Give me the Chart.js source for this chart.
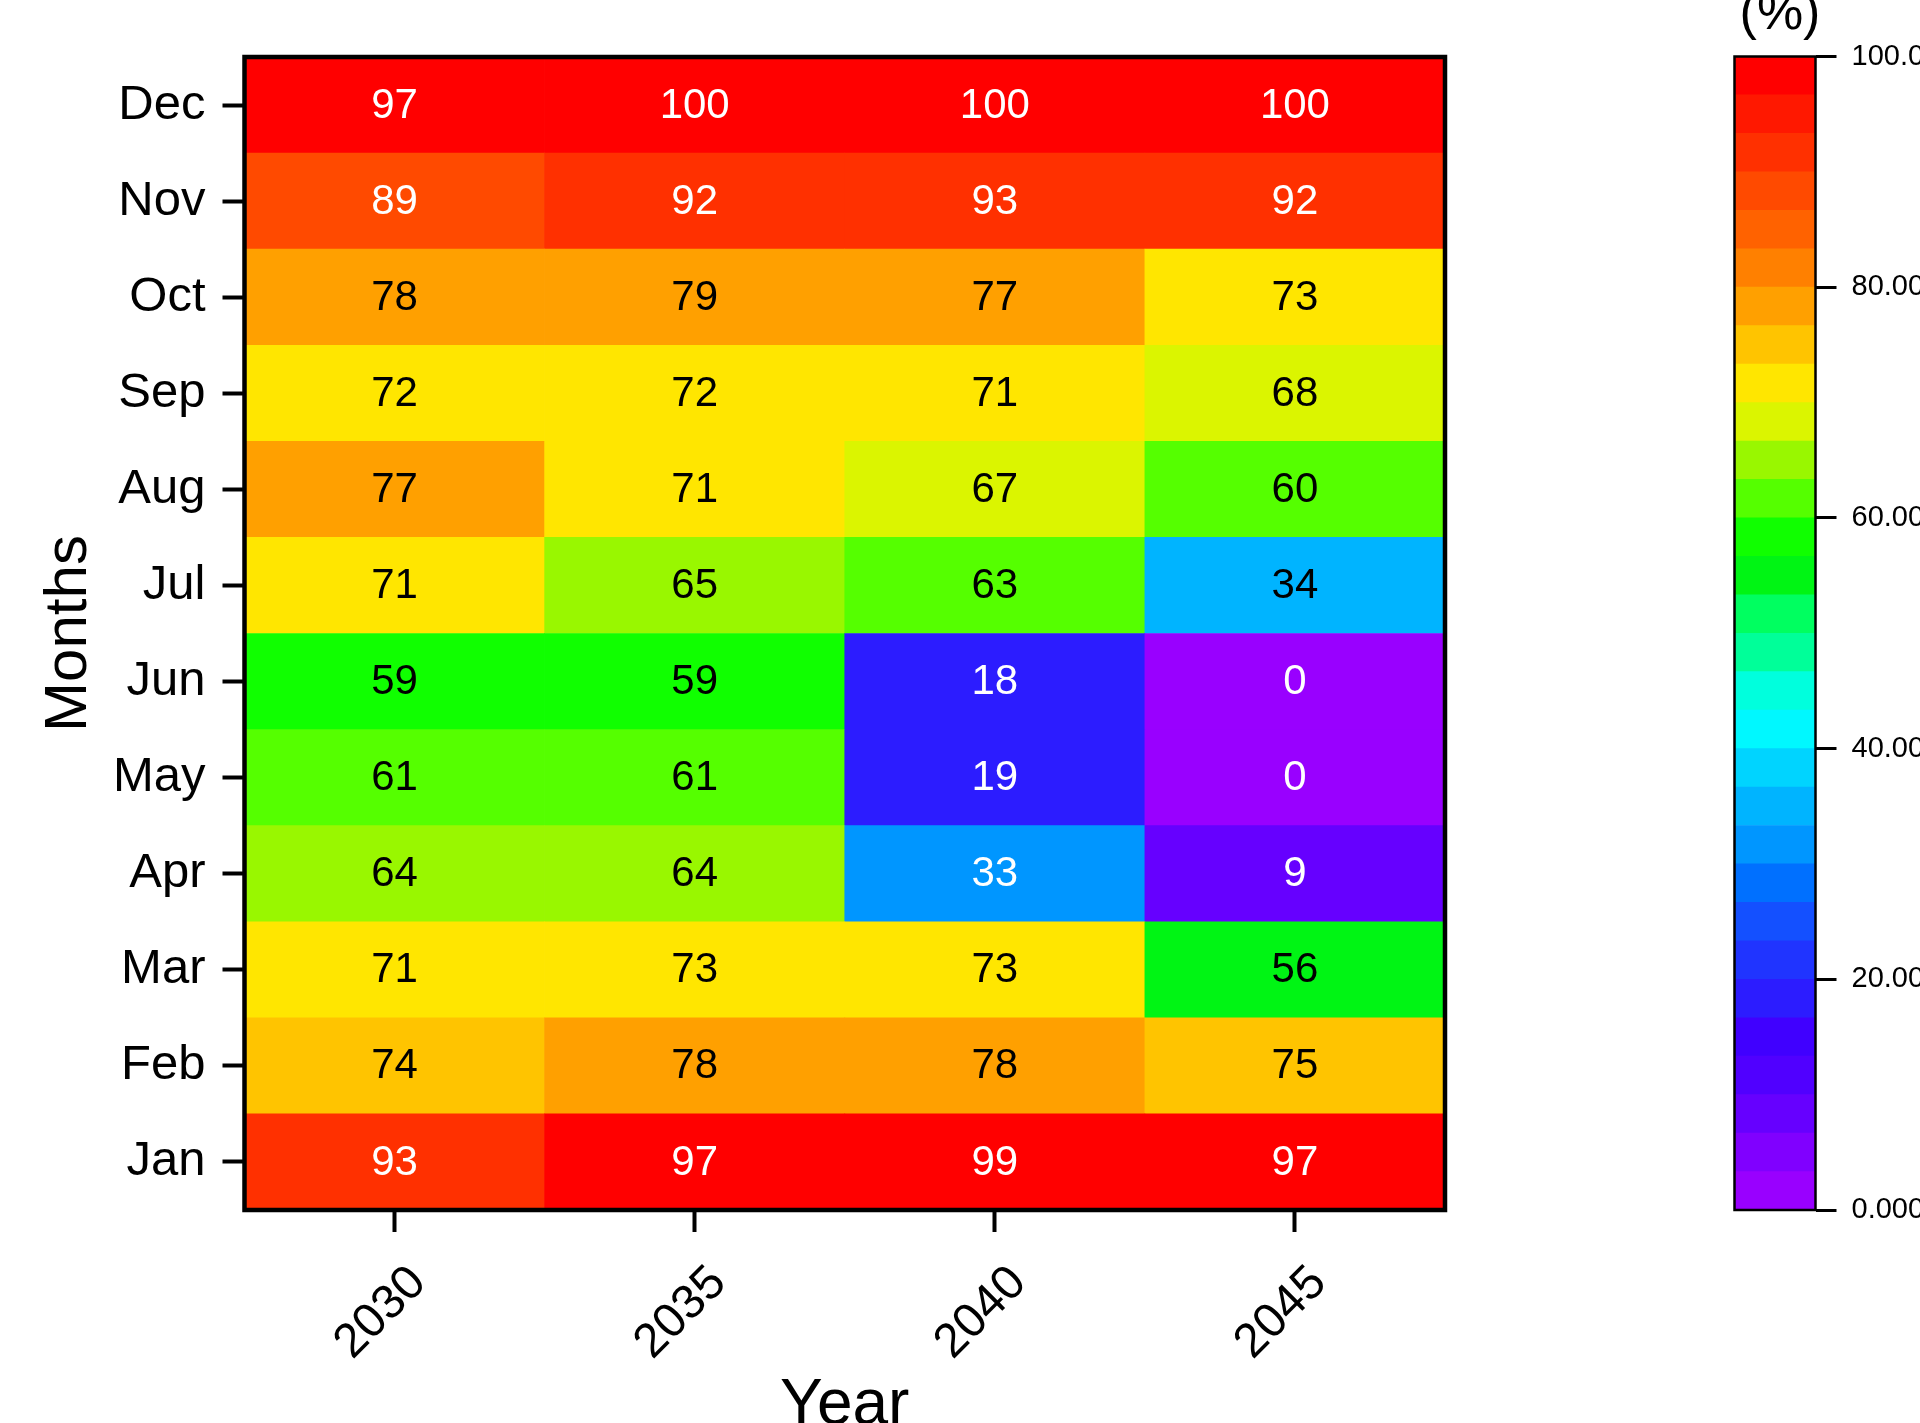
<!DOCTYPE html>
<html>
<head>
<meta charset="utf-8">
<script src="https://cdn.jsdelivr.net/npm/chart.js@4.4.1/dist/chart.umd.min.js"></script>
<style>
  html, body { margin:0; padding:0; background:#fff; overflow:hidden; width:1920px; height:1423px; }
  #heat { position:absolute; left:0; top:0; }
  #bar { position:absolute; left:1700px; top:0; }
</style>
</head>
<body>
<canvas id="heat" width="1920" height="1480"></canvas>
<canvas id="bar" width="220" height="1480"></canvas>
<script>
// Datos
const months = ['Jan','Feb','Mar','Apr','May','Jun','Jul','Aug','Sep','Oct','Nov','Dec'];
const years = ['2030','2035','2040','2045'];
const v2030 = [93,74,71,64,61,59,71,77,72,78,89,97];
const v2035 = [97,78,73,64,61,59,65,71,72,79,92,100];
const v2040 = [99,78,73,33,19,18,63,67,71,77,93,100];
const v2045 = [97,75,56,9,0,0,34,60,68,73,92,100];
const yearValues = [v2030, v2035, v2040, v2045];

// colormap, 30 levels from 0 (bottom) to 100 (top)
const bandColors = [
  '#9900ff','#8000ff','#6600ff','#5000ff','#4000ff','#2c1cff','#2034ff','#1450ff','#0070ff','#0096ff',
  '#00b4ff','#00d4ff','#00f8ff','#00ffdd','#00ff99','#00ff60','#00f514','#10ff00','#55ff00','#99f700',
  '#dbf500','#ffe600','#ffc400','#ffa000','#ff8000','#ff6200','#ff4a00','#ff3000','#ff1800','#ff0000'
];
const cbTicks = [0,20,40,60,80,100];

Chart.defaults.font.family = "'Liberation Sans', Arial, sans-serif";
Chart.defaults.color = '#000';

function colorFor(v){
  const n = bandColors.length;
  return bandColors[Math.min(n - 1, Math.floor(v * n / 100 + 1e-9))];
}

const frame = {
  id: 'frame',
  afterDraw(chart, args, opts){
    const a = chart.chartArea, c = chart.ctx;
    c.save();
    c.lineWidth = opts.width || 2;
    c.strokeStyle = '#000';
    c.strokeRect(a.left, a.top, a.right - a.left, a.bottom - a.top);
    c.restore();
  }
};

const cellLabels = {
  id: 'cellLabels',
  afterDatasetsDraw(chart){
    const c = chart.ctx;
    c.save();
    c.font = "42px 'Liberation Sans', Arial, sans-serif";
    c.textAlign = 'center';
    c.textBaseline = 'middle';
    chart.data.datasets.forEach((ds, i) => {
      chart.getDatasetMeta(i).data.forEach((bar, j) => {
        const v = yearValues[j][i];
        c.fillStyle = (v >= 86 || v <= 33) ? '#fff' : '#000';
        c.fillText(String(v), bar.x, (bar.y + bar.base) / 2 + 1);
      });
    });
    c.restore();
  }
};

const unitTitle = {
  id: 'unitTitle',
  afterDraw(chart){
    const c = chart.ctx;
    c.save();
    c.font = "52px 'Liberation Sans', Arial, sans-serif";
    c.fillStyle = '#000';
    c.textAlign = 'center';
    c.textBaseline = 'alphabetic';
    c.fillText('(%)', 80, 29);
    c.restore();
  }
};

// --- Heatmap ---
new Chart(document.getElementById('heat').getContext('2d'), {
  type: 'bar',
  data: {
    labels: years,
    datasets: months.map((m, i) => ({
      label: m,
      data: years.map(() => [i, i + 1]),
      backgroundColor: yearValues.map(vals => colorFor(vals[i])),
      grouped: false,
      barPercentage: 1,
      categoryPercentage: 1,
      borderWidth: 0
    }))
  },
  options: {
    responsive: false,
    animation: false,
    layout: { padding: { left: 0, top: 57, right: 475, bottom: 0 } },
    plugins: { legend: { display: false }, tooltip: { enabled: false }, frame: { width: 4.5 } },
    scales: {
      x: {
        offset: true,
        grid: { offset: false, drawOnChartArea: false, tickLength: 22, tickWidth: 4, tickColor: '#000' },
        border: { display: false },
        ticks: { minRotation: 45, maxRotation: 45, font: { size: 48 }, color: '#000', padding: 23, labelOffset: 24 },
        title: { display: true, text: 'Year', font: { size: 64 }, color: '#000', padding: { top: 0, bottom: 35 } },
        afterFit: s => { s.height = 270; }
      },
      y: {
        min: 0, max: 12,
        afterBuildTicks: s => { s.ticks = months.map((m, i) => ({ value: i + 0.5 })); },
        ticks: { callback: (v, i) => months[i], font: { size: 49 }, color: '#000', padding: 17, autoSkip: false },
        grid: { drawOnChartArea: false, tickLength: 22, tickWidth: 4, tickColor: '#000' },
        border: { display: false },
        title: { display: true, text: 'Months', font: { size: 60 }, color: '#000', padding: { top: 33, bottom: 0 } },
        afterFit: s => { s.width = 244.5; }
      }
    }
  },
  plugins: [frame, cellLabels]
});

// --- Barra de color ---
const bandStep = 100 / bandColors.length;
new Chart(document.getElementById('bar').getContext('2d'), {
  type: 'bar',
  data: {
    labels: [''],
    datasets: bandColors.map((c, k) => ({
      data: [[k * bandStep, (k + 1) * bandStep]],
      backgroundColor: c,
      grouped: false,
      barPercentage: 1,
      categoryPercentage: 1,
      borderWidth: 0
    }))
  },
  options: {
    responsive: false,
    animation: false,
    layout: { padding: { left: 34.5, top: 56.5, right: 0, bottom: 270 } },
    plugins: { legend: { display: false }, tooltip: { enabled: false }, frame: { width: 2.5 } },
    scales: {
      x: { display: false },
      y: {
        position: 'right',
        min: 0, max: 100,
        afterBuildTicks: s => { s.ticks = cbTicks.map(v => ({ value: v })); },
        ticks: { callback: v => Number(v).toPrecision(4), font: { size: 29 }, color: '#000', padding: 15 },
        grid: { drawOnChartArea: false, tickLength: 21, tickWidth: 3, tickColor: '#000' },
        border: { display: false },
        afterFit: s => { s.width = 104.5; }
      }
    }
  },
  plugins: [frame, unitTitle]
});
</script>
</body>
</html>
